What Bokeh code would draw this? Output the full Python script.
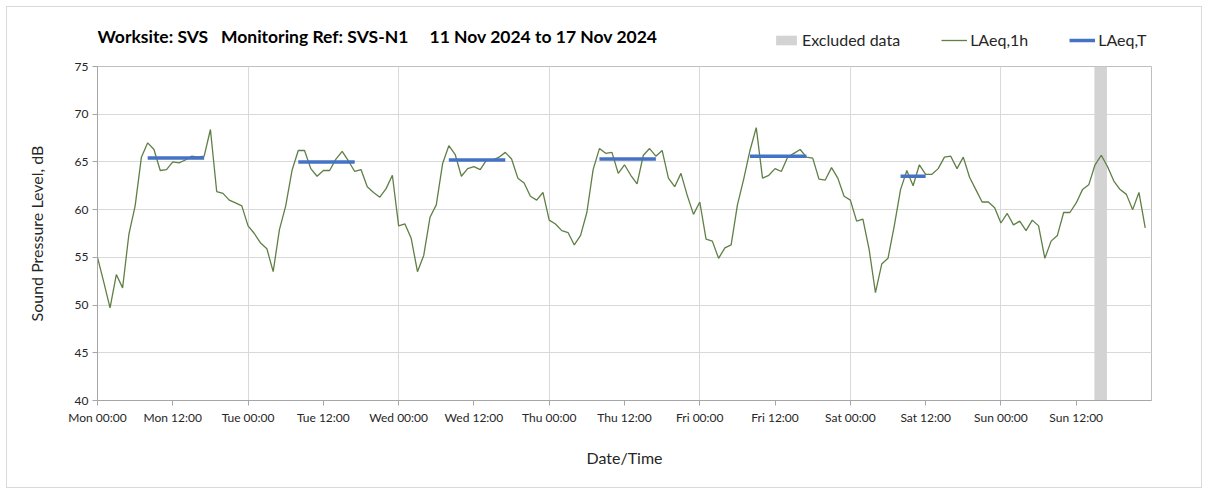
from bokeh.plotting import figure
from bokeh.layouts import column
from bokeh.models import FixedTicker, Legend, LegendItem, ColumnDataSource
from bokeh.core.properties import value
from bokeh.embed import file_html
from bokeh.resources import INLINE

# ---------------- data ----------------
hours = list(range(168))
laeq_1h = [
    55.0, 52.4, 49.7, 53.2, 51.8, 57.4, 60.4, 65.5, 67.0, 66.3, 64.1, 64.2,
    65.0, 64.9, 65.2, 65.6, 65.5, 65.6, 68.4, 61.9, 61.7, 61.0, 60.7, 60.4,
    58.3, 57.5, 56.5, 55.9, 53.5, 57.9, 60.4, 64.1, 66.2, 66.2, 64.3, 63.5,
    64.1, 64.1, 65.3, 66.1, 65.1, 64.0, 64.2, 62.4, 61.8, 61.3, 62.2, 63.6,
    58.3, 58.5, 57.0, 53.5, 55.2, 59.2, 60.5, 64.8, 66.7, 65.8, 63.5, 64.3,
    64.5, 64.2, 65.2, 65.2, 65.5, 66.0, 65.3, 63.3, 62.8, 61.4, 61.0, 61.8,
    58.9, 58.5, 57.8, 57.6, 56.3, 57.3, 59.7, 64.2, 66.4, 65.9, 66.0, 63.8,
    64.7, 63.6, 62.7, 65.7, 66.4, 65.6, 66.2, 63.3, 62.4, 63.8, 61.5, 59.5,
    60.8, 56.9, 56.7, 54.9, 56.0, 56.3, 60.5, 63.2, 66.2, 68.6, 63.3, 63.6,
    64.3, 64.0, 65.5, 65.9, 66.3, 65.5, 65.4, 63.2, 63.1, 64.4, 63.3, 61.4,
    61.0, 58.8, 59.0, 55.8, 51.3, 54.3, 54.9, 58.3, 62.1, 64.1, 62.5, 64.7,
    63.7, 63.7, 64.3, 65.5, 65.6, 64.3, 65.5, 63.4, 62.1, 60.8, 60.8, 60.2,
    58.6, 59.6, 58.4, 58.8, 57.8, 58.9, 58.3, 54.9, 56.7, 57.3, 59.7, 59.7,
    60.7, 62.1, 62.6, 64.7, 65.7, 64.5, 63.0, 62.1, 61.6, 60.0, 61.8, 58.1,
]
laeqT_start = [8, 32, 56, 80, 104, 128]
laeqT_end = [17, 41, 65, 89, 113, 132]
laeqT_value = [65.4, 65.0, 65.2, 65.3, 65.6, 63.5]
excluded_start = 158.9
excluded_end = 160.9
tick_hours = list(range(0, 157, 12))
tick_labels = ["Mon 00:00", "Mon 12:00", "Tue 00:00", "Tue 12:00", "Wed 00:00",
               "Wed 12:00", "Thu 00:00", "Thu 12:00", "Fri 00:00", "Fri 12:00",
               "Sat 00:00", "Sat 12:00", "Sun 00:00", "Sun 12:00"]
day_hours = list(range(0, 169, 24))
y_ticks = list(range(40, 76, 5))
legend_labels = ["Excluded data", "LAeq,1h", "LAeq,T"]
NB = "\u00a0"
title_text = ("Worksite: SVS" + NB * 3 + "Monitoring Ref: SVS-N1" + NB * 5 +
              "11 Nov 2024 to 17 Nov 2024")

FONT = "Lato"
TXT = "#262626"
GREEN = "#5f7f45"
BLUE = "#4472C4"
GREY = "#d3d3d3"
W = 1194
FRAME_W = 1054  # main plot frame width (header frame is aligned to it)

# ---------------- header (title + legend) ----------------
hdr = figure(width=W, height=51, output_backend="svg", toolbar_location=None,
             x_range=(0, FRAME_W), y_range=(0, 51), min_border=0)
hdr.axis.visible = False
hdr.grid.visible = False
hdr.outline_line_color = None
hdr.text(x=[0], y=[22], text=[title_text], text_font=value(FONT),
         text_font_size="17.5px", text_font_style="bold", text_color="black",
         text_baseline="middle", text_align="left")
h_exc = hdr.quad(left=[-50], right=[-40], bottom=[-50], top=[-40],
                 fill_color=GREY, line_color=None)
h_1h = hdr.line([-50, -40], [-50, -50], line_color=GREEN, line_width=1.3)
h_t = hdr.line([-50, -40], [-50, -50], line_color=BLUE, line_width=3.5)
legend = Legend(items=[LegendItem(label=legend_labels[0], renderers=[h_exc]),
                       LegendItem(label=legend_labels[1], renderers=[h_1h]),
                       LegendItem(label=legend_labels[2], renderers=[h_t])],
                orientation="horizontal", location=(676, 9),
                label_text_font=FONT, label_text_font_size="16px",
                label_text_color=TXT, glyph_width=26, glyph_height=12,
                label_standoff=3, spacing=41, padding=0, margin=0,
                border_line_color=None, background_fill_alpha=0)
hdr.add_layout(legend, "center")

# ---------------- main chart ----------------
p = figure(width=W, height=429, output_backend="svg", toolbar_location=None,
           x_range=(0, 168), y_range=(40, 75),
           min_border_left=90, min_border_right=50, min_border_top=8,
           min_border_bottom=87)
p.background_fill_color = "white"
p.border_fill_color = "white"
p.outline_line_color = "#bfbfbf"
p.outline_line_width = 1

p.xaxis.ticker = FixedTicker(ticks=tick_hours)
p.xaxis.major_label_overrides = {h: t for h, t in zip(tick_hours, tick_labels)}
p.yaxis.ticker = FixedTicker(ticks=y_ticks)
for ax in (p.xaxis[0], p.yaxis[0]):
    ax.axis_line_color = "#a6a6a6"
    ax.major_tick_line_color = "#a6a6a6"
    ax.major_tick_out = 5
    ax.major_tick_in = 0
    ax.minor_tick_line_color = None
    ax.major_label_text_font = FONT
    ax.major_label_text_font_size = "12px"
    ax.major_label_text_color = TXT
    ax.axis_label_text_font = FONT
    ax.axis_label_text_font_size = "16px"
    ax.axis_label_text_font_style = "normal"
    ax.axis_label_text_color = TXT
p.xaxis.axis_label = "Date/Time"
p.yaxis.axis_label = "Sound Pressure Level, dB"
p.xaxis.axis_label_standoff = 20
p.yaxis.axis_label_standoff = 26
p.xaxis.major_label_standoff = 4
p.yaxis.major_label_standoff = 4

p.xgrid.ticker = FixedTicker(ticks=day_hours)
p.xgrid.grid_line_color = "#d9d9d9"
p.ygrid.grid_line_color = "#d9d9d9"

p.quad(left=[excluded_start], right=[excluded_end], bottom=[40], top=[75],
       fill_color=GREY, line_color=None)
p.line(hours, laeq_1h, line_color=GREEN, line_width=1.3)
src_t = ColumnDataSource(dict(x0=laeqT_start, x1=laeqT_end, y=laeqT_value))
p.segment(x0="x0", y0="y", x1="x1", y1="y", source=src_t,
          line_color=BLUE, line_width=3.5)

layout = column(hdr, p, spacing=0)
layout.styles = {"margin": "6px", "border": "1px solid #d9d9d9",
                 "background-color": "white"}

open("out.html", "w").write(file_html(layout, INLINE))
